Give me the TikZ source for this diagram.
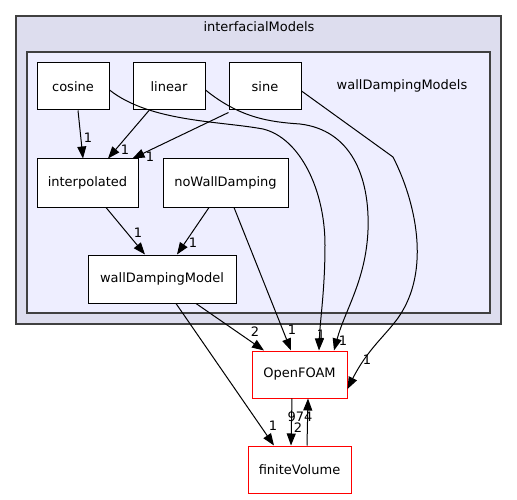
\documentclass[tikz,border=0pt]{standalone}
\usepackage{fontspec}
\setmainfont{DejaVu Sans}
\usetikzlibrary{arrows.meta}
\definecolor{outerfill}{HTML}{DDDDEE}
\definecolor{innerfill}{HTML}{EEEEFF}
\definecolor{clusterline}{HTML}{404040}
\begin{document}
\begin{tikzpicture}[x=1pt,y=-1pt,
  box/.style={draw=black,fill=white,line width=1pt,inner sep=0pt,minimum height=47pt,font=\fontsize{13}{15}\selectfont},
  redbox/.style={box,draw=red},
  edge/.style={draw=black,line width=1pt,-{Triangle[length=12pt,width=9pt]}},
  lbl/.style={font=\fontsize{13}{15}\selectfont,inner sep=0pt}
]
\useasboundingbox (0,0) rectangle (517,500);
% clusters
\draw[fill=outerfill,draw=clusterline,line width=1.2pt] (16,16) rectangle (501,324);
\node[lbl] (outerlbl) at (259,27) {interfacialModels};
\draw[fill=innerfill,draw=clusterline,line width=1.2pt] (27,52) rectangle (490,313);
\node[lbl] (innerlbl) at (402,86) {wallDampingModels};
% nodes
\node[box,minimum width=72pt] (cosine) at (73,86.5) {cosine};
\node[box,minimum width=72pt] (linear) at (169,86.5) {linear};
\node[box,minimum width=72pt] (sine) at (265,86.5) {sine};
\node[box,minimum width=101pt,minimum height=48pt] (interp) at (87.5,183) {interpolated};
\node[box,minimum width=125pt,minimum height=48pt] (nowd) at (225.5,183) {noWallDamping};
\node[box,minimum width=148pt,minimum height=48pt] (wdm) at (162,279) {wallDampingModel};
\node[redbox,minimum width=95pt] (of) at (299.5,374.5) {OpenFOAM};
\node[redbox,minimum width=103pt] (fv) at (299.5,469.5) {finiteVolume};
% edges
\draw[edge] ([xshift=5pt]cosine.south) -- ([xshift=-4.5pt]interp.north);
\node[lbl] at (88,138) {1};
\draw[edge] ([xshift=-20pt]linear.south) -- ([xshift=20.5pt]interp.north);
\node[lbl] at (125,150) {1};
\draw[edge] ([yshift=-2pt]sine.south west) -- ([xshift=-6pt]interp.north east);
\node[lbl] at (150,157) {1};
\draw[edge] ([xshift=18.5pt]interp.south) -- ([xshift=-17pt]wdm.north);
\node[lbl] at (138,233) {1};
\draw[edge] ([xshift=-16.5pt]nowd.south) -- ([xshift=15pt]wdm.north);
\node[lbl] at (193,243) {1};
\draw[edge] ([xshift=8.5pt]nowd.south) -- ([xshift=-8.5pt]of.north);
\node[lbl] at (292,330) {1};
\draw[edge] ([xshift=34pt]wdm.south) -- ([xshift=-35.5pt]of.north);
\node[lbl] at (255,332) {2};
\draw[edge] ([xshift=14pt]wdm.south) -- ([xshift=-25.5pt]fv.north);
\node[lbl] at (273,426) {1};
\draw[edge] ([xshift=-7.5pt]of.south) -- ([xshift=-8.5pt]fv.north);
\node[lbl] at (298,428) {2};
\draw[edge] ([xshift=7.5pt]fv.north) -- ([xshift=8.5pt]of.south);
\node[lbl] at (300,417) {974};
% curved edges to OpenFOAM
\draw[edge] ([yshift=-3.5pt]cosine.east) .. controls (150,122) and (220,121) .. (263,129)
  .. controls (300,138) and (325,190) .. (325,245)
  .. controls (325,290) and (320,320) .. ([xshift=19.5pt]of.north);
\node[lbl] at (321,335) {1};
\draw[edge] ([yshift=-3.5pt]linear.east) .. controls (240,118) and (270,122) .. (300,124)
  .. controls (350,130) and (370,175) .. (368,230)
  .. controls (366,280) and (345,310) .. ([xshift=34.5pt]of.north);
\node[lbl] at (343,341) {1};
\draw[edge] ([yshift=-4.5pt]sine.east) -- (393,157)
  .. controls (415,200) and (432,270) .. (398,318)
  .. controls (385,336) and (367,350) .. ([yshift=-14.5pt]of.east);
\node[lbl] at (367,360) {1};
\end{tikzpicture}
\end{document}
